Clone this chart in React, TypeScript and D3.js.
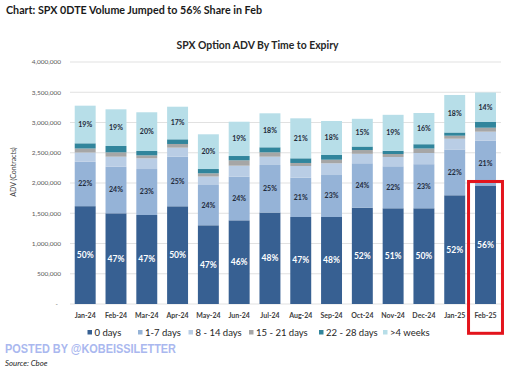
import React from "react";
import * as d3 from "d3";

const months = ["Jan-24","Feb-24","Mar-24","Apr-24","May-24","Jun-24","Jul-24","Aug-24","Sep-24","Oct-24","Nov-24","Dec-24","Jan-25","Feb-25"];
const days0 = [1617000,1499000,1471000,1615000,1301000,1383000,1512000,1438000,1438000,1592000,1582000,1582000,1797000,1959000];
const days1to7 = [735000,771000,760000,820000,666000,721000,786000,650000,694000,734000,694000,729000,757000,739000];
const days8to14 = [152000,165000,177000,149000,140000,182000,137000,193000,194000,157000,154000,185000,178000,150000];
const days15to21 = [66000,72000,49000,61000,53000,89000,72000,50000,59000,62000,49000,74000,50000,66000];
const days22to28 = [86000,105000,72000,77000,71000,71000,83000,77000,78000,58000,53000,71000,53000,99000];
const over4w = [622000,606000,640000,539000,574000,567000,562000,661000,562000,458000,595000,516000,620000,483000];

const pct0 = [50,47,47,50,47,46,48,47,48,52,51,50,52,56];
const pct1to7 = [22,24,23,25,24,24,25,21,23,24,22,23,22,21];
const pctOver = [19,19,20,17,20,19,18,21,18,15,19,16,18,14];

const seriesNames = ["0 days","1-7 days","8 - 14 days","15 - 21 days","22 - 28 days",">4 weeks"];
const seriesColors = ["#376092","#95b3d7","#b9cde5","#a6a6a6","#31859c","#b7dee8"];
const yTicks = [0,500000,1000000,1500000,2000000,2500000,3000000,3500000,4000000];
const highlightMonth = "Feb-25";

const legendX = [87.5, 138, 188.5, 249, 319, 383];

const FONT = "Lato, 'Open Sans', sans-serif";

export default function App() {
  const keys = ["d0","d1","d2","d3","d4","d5"];
  const rows = months.map((m, i) => ({
    month: m,
    d0: days0[i], d1: days1to7[i], d2: days8to14[i], d3: days15to21[i], d4: days22to28[i], d5: over4w[i],
  }));
  const stack = d3.stack<any>().keys(keys)(rows);

  const x = d3.scaleBand<string>().domain(months).range([69.8, 500.9]).paddingInner(0.32).paddingOuter(0.16);
  const y = d3.scaleLinear().domain([0, 4000000]).range([304, 62]);
  const fmt = d3.format(",");

  const hi = months.indexOf(highlightMonth);
  const hx = x(highlightMonth)!;
  const hTop = y(stack[0][hi][1]);

  return (
    <svg width={512} height={376} style={{ position: "absolute", left: 0, top: 0, background: "#fff" }} fontFamily={FONT}>
      <rect x={0} y={0} width={512} height={376} fill="#fff" />
      <text x={6} y={13.5} fontSize={11.5} fontWeight={700} fill="#1a1a1a" textLength={256} lengthAdjust="spacingAndGlyphs">
        Chart: SPX 0DTE Volume Jumped to 56% Share in Feb
      </text>
      <text x={257.5} y={49.3} fontSize={10.5} fontWeight={700} fill="#262626" textAnchor="middle" textLength={162} lengthAdjust="spacingAndGlyphs">
        SPX Option ADV By Time to Expiry
      </text>

      {yTicks.map((t) => (
        <g key={t}>
          <line x1={70} x2={501} y1={y(t)} y2={y(t)} stroke="#d9d9d9" strokeWidth={0.8} />
          <text x={t === 0 ? 58 : 61} y={y(t)} dy="0.35em" fontSize={6.5} fill="#595959" textAnchor="end">
            {t === 0 ? "-" : fmt(t)}
          </text>
        </g>
      ))}

      <text transform={`translate(16,${(y(0) + y(4000000)) / 2 - 11}) rotate(-90)`} fontSize={7} fill="#404040" textAnchor="middle">
        ADV (Contracts)
      </text>

      {stack.map((s, si) => (
        <g key={si} fill={seriesColors[si]}>
          {s.map((d, i) => (
            <rect key={i} x={x(months[i])} width={x.bandwidth()} y={y(d[1])} height={y(d[0]) - y(d[1])} />
          ))}
        </g>
      ))}

      {months.map((m, i) => {
        const cx = x(m)! + x.bandwidth() / 2;
        const s0 = stack[0][i], s1 = stack[1][i], s5 = stack[5][i];
        return (
          <g key={m} textAnchor="middle" fontWeight={700}>
            <text x={cx} y={(y(s0[0]) + y(s0[1])) / 2} dy="0.35em" fontSize={8.5} fill="#fff">{pct0[i]}%</text>
            <text x={cx} y={(y(s1[0]) + y(s1[1])) / 2} dy="0.35em" fontSize={7} fill="#1f2a3a">{pct1to7[i]}%</text>
            <text x={cx} y={(y(s5[0]) + y(s5[1])) / 2} dy="0.35em" fontSize={7} fill="#1f2a3a">{pctOver[i]}%</text>
            <text x={cx} y={318} fontSize={7} fill="#404040">{m}</text>
          </g>
        );
      })}

      <rect x={hx - 6.5} y={hTop - 4} width={x.bandwidth() + 13} height={333.3 - (hTop - 4)} fill="none" stroke="#e3141c" strokeWidth={3} />

      {seriesNames.map((n, i) => (
        <g key={n}>
          <rect x={legendX[i]} y={330} width={4.5} height={4.5} fill={seriesColors[i]} />
          <text x={legendX[i] + 7} y={335.5} fontSize={9.5} fill="#262626">{n}</text>
        </g>
      ))}

      <text x={5} y={353} fontSize={13} fontWeight={700} fill="#aab8ef" fontFamily="'Liberation Sans', Arial, sans-serif" textLength={171} lengthAdjust="spacingAndGlyphs">
        POSTED BY @KOBEISSILETTER
      </text>
      <text x={5} y={366} fontSize={7.5} fontStyle="italic" fill="#262626" textLength={42.5} lengthAdjust="spacingAndGlyphs">
        Source: Cboe
      </text>
    </svg>
  );
}
